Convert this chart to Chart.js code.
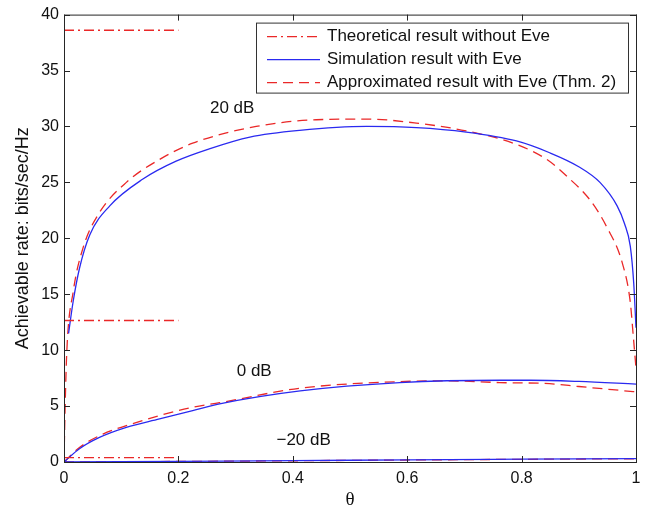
<!DOCTYPE html>
<html>
<head>
<meta charset="utf-8">
<script src="https://cdn.jsdelivr.net/npm/chart.js@4.4.0/dist/chart.umd.min.js"></script>
<style>
  html, body { margin: 0; padding: 0; background: #fff; }
  #chart { display: block; }
</style>
</head>
<body>
<canvas id="chart" width="654" height="508"></canvas>
<script>
// values (theta -> achievable rate, bits/sec/Hz)
const thetaTheory = [0, 0.2];
const theory20 = [38.6, 38.6];
const theory0 = [12.65, 12.65];
const theoryM20 = [0.4, 0.4];

const thetaSim20 = [0.008, 0.016, 0.027, 0.045, 0.08, 0.138, 0.196, 0.254, 0.325, 0.412, 0.529, 0.616, 0.703, 0.791, 0.849, 0.9, 0.937, 0.967, 0.98, 0.99, 0.996, 1.0];
const sim20 = [11.5, 14.35, 17.3, 20.3, 22.9, 25.3, 26.9, 28.0, 29.05, 29.65, 30.0, 29.9, 29.5, 28.7, 27.65, 26.4, 25.0, 22.9, 21.3, 19.3, 16.0, 12.0];

const thetaApx20 = [0, 0.002, 0.005, 0.016, 0.033, 0.062, 0.109, 0.167, 0.225, 0.336, 0.441, 0.529, 0.616, 0.703, 0.791, 0.844, 0.88, 0.92, 0.949, 0.976, 0.99, 0.995, 1.0];
const apx20 = [0, 5, 10, 15.2, 19.1, 22.3, 25.0, 27.05, 28.5, 30.0, 30.6, 30.66, 30.3, 29.6, 28.4, 27.05, 25.5, 23.4, 21.0, 17.8, 14.3, 11.4, 8.4];

const thetaSim0 = [0, 0.027, 0.062, 0.109, 0.167, 0.225, 0.272, 0.413, 0.587, 0.762, 0.815, 0.9, 1.0];
const sim0 = [0, 1.19, 2.2, 3.1, 3.85, 4.6, 5.2, 6.36, 7.1, 7.31, 7.31, 7.2, 6.96];

const thetaApx0 = [0, 0.027, 0.068, 0.109, 0.167, 0.225, 0.272, 0.413, 0.587, 0.675, 0.762, 0.849, 0.9, 1.0];
const apx0 = [0, 1.3, 2.5, 3.25, 4.15, 4.9, 5.3, 6.6, 7.19, 7.25, 7.1, 7.0, 6.75, 6.27];

const thetaM20 = [0, 0.2, 0.4, 0.6, 0.8, 1.0];
const simM20 = [0, 0.06, 0.12, 0.19, 0.25, 0.31];
const apxM20 = [0, 0.05, 0.11, 0.18, 0.24, 0.29];

const xTicks = [0, 0.2, 0.4, 0.6, 0.8, 1];
const yTicks = [0, 5, 10, 15, 20, 25, 30, 35, 40];

const legendLabels = ["Theoretical result without Eve", "Simulation result with Eve", "Approximated result with Eve (Thm. 2)"];
const curveLabels = [
  { text: "20 dB", theta: 0.294, rate: 31.65 },
  { text: "0 dB", theta: 0.3325, rate: 8.13 },
  { text: "\u221220 dB", theta: 0.419, rate: 1.93 },
];

const BLUE = "#2a2af0";
const RED = "#ea2828";
const DASH = [10, 6];
const DASHDOT = [10, 4, 2, 4];
const SANS = "'Liberation Sans', Arial, Helvetica, sans-serif";

const pts = (xs, ys) => xs.map((x, i) => ({ x: x, y: ys[i] }));

function line(data, color, dash) {
  return {
    data: data,
    borderColor: color,
    borderWidth: 1.3,
    borderDash: dash,
    pointRadius: 0,
    fill: false,
    cubicInterpolationMode: "monotone",
  };
}

const frame = {
  id: "frame",
  afterDatasetsDraw(chart) {
    const { ctx, chartArea: a, scales: { x, y } } = chart;
    ctx.save();
    ctx.strokeStyle = "#262626";
    ctx.lineWidth = 1;
    ctx.setLineDash([]);
    ctx.beginPath();
    xTicks.forEach((v) => {
      const px = Math.round(x.getPixelForValue(v)) + 0.5;
      ctx.moveTo(px, a.bottom); ctx.lineTo(px, a.bottom - 6);
      ctx.moveTo(px, a.top); ctx.lineTo(px, a.top + 6);
    });
    yTicks.forEach((v) => {
      const py = Math.round(y.getPixelForValue(v)) + 0.5;
      ctx.moveTo(a.left, py); ctx.lineTo(a.left + 6, py);
      ctx.moveTo(a.right, py); ctx.lineTo(a.right - 6, py);
    });
    ctx.stroke();
    ctx.strokeRect(a.left + 0.5, a.top + 0.5, a.right - a.left, a.bottom - a.top);

    // curve labels
    ctx.fillStyle = "#111";
    ctx.font = "17px " + SANS;
    ctx.textAlign = "center";
    ctx.textBaseline = "middle";
    curveLabels.forEach((l) => {
      ctx.fillText(l.text, x.getPixelForValue(l.theta), y.getPixelForValue(l.rate));
    });

    // legend box
    const bw = 372, bh = 70;
    const bx = a.right - 8 - bw, by = a.top + 8;
    ctx.fillStyle = "#fff";
    ctx.fillRect(bx, by, bw, bh);
    ctx.strokeStyle = "#333";
    ctx.strokeRect(bx + 0.5, by + 0.5, bw, bh);
    const styles = [[RED, DASHDOT], [BLUE, []], [RED, DASH]];
    ctx.textAlign = "left";
    legendLabels.forEach((t, i) => {
      const cy = by + 14 + i * 23;
      ctx.strokeStyle = styles[i][0];
      ctx.lineWidth = 1.3;
      ctx.setLineDash(styles[i][1]);
      ctx.beginPath();
      ctx.moveTo(bx + 11, cy); ctx.lineTo(bx + 64, cy);
      ctx.stroke();
      ctx.setLineDash([]);
      ctx.fillStyle = "#111";
      ctx.fillText(t, bx + 71, cy);
    });

    // axis titles
    ctx.font = "18px " + SANS;
    ctx.textAlign = "center";
    ctx.save();
    ctx.translate(23.5, (a.top + a.bottom) / 2);
    ctx.rotate(-Math.PI / 2);
    ctx.fillText("Achievable rate: bits/sec/Hz", 0, 0);
    ctx.restore();
    ctx.font = "19px 'Liberation Serif', 'Times New Roman', serif";
    ctx.fillText("\u03b8", (a.left + a.right) / 2, 500);
    ctx.restore();
  },
};

new Chart(document.getElementById("chart"), {
  type: "line",
  data: {
    datasets: [
      line(pts(thetaTheory, theory20), RED, DASHDOT),
      line(pts(thetaTheory, theory0), RED, DASHDOT),
      line(pts(thetaTheory, theoryM20), RED, DASHDOT),
      line(pts(thetaSim20, sim20), BLUE, []),
      line(pts(thetaSim0, sim0), BLUE, []),
      line(pts(thetaM20, simM20), BLUE, []),
      line(pts(thetaApx20, apx20), RED, DASH),
      line(pts(thetaApx0, apx0), RED, DASH),
      line(pts(thetaM20, apxM20), RED, DASH),
    ],
  },
  options: {
    responsive: false,
    animation: false,
    devicePixelRatio: 1,
    layout: { padding: { left: 0, right: 18, top: 11, bottom: 0 } },
    plugins: { legend: { display: false }, tooltip: { enabled: false } },
    scales: {
      x: {
        type: "linear",
        min: 0,
        max: 1,
        afterFit: (s) => { s.height = 46; },
        afterBuildTicks: (s) => { s.ticks = xTicks.map((v) => ({ value: v })); },
        grid: { display: false, drawTicks: false },
        border: { display: false },
        ticks: {
          padding: 7,
          color: "#111",
          font: { family: SANS, size: 16 },
          maxRotation: 0,
          callback: (v) => String(+v.toFixed(1)),
        },
      },
      y: {
        min: 0,
        max: 40,
        afterFit: (s) => { s.width = 64; },
        afterBuildTicks: (s) => { s.ticks = yTicks.map((v) => ({ value: v })); },
        grid: { display: false, drawTicks: false },
        border: { display: false },
        ticks: {
          padding: 5,
          color: "#111",
          font: { family: SANS, size: 16 },
        },
      },
    },
  },
  plugins: [frame],
});
</script>
</body>
</html>
